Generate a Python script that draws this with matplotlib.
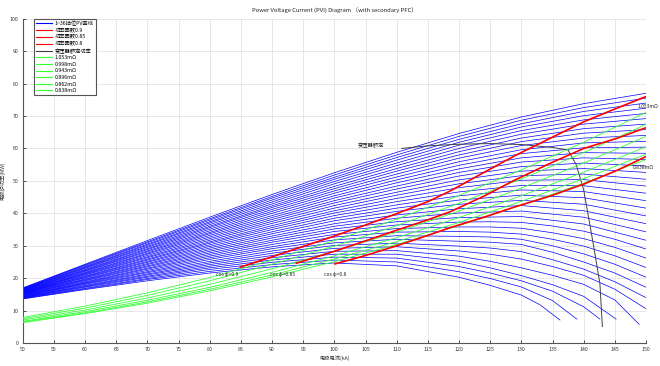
import matplotlib
matplotlib.use('Agg')
import matplotlib.pyplot as plt

plt.rcParams['font.family'] = ['Noto Sans CJK SC', 'DejaVu Sans']
plt.rcParams['axes.unicode_minus'] = False

# electrode current grid (kA) for the tap curves
pv_x = [50, 60, 70, 80, 90, 100, 110, 120, 130, 140, 150]

# arc furnace power (MW) of the 36 taps (top tap first)
pv_y = [
    [17.0, 24.3, 31.6, 38.8, 45.8, 52.5, 58.8, 64.6, 69.7, 73.8, 77.0],
    [16.9, 24.1, 31.2, 38.3, 45.2, 51.8, 58.0, 63.7, 68.7, 72.6, 75.5],
    [16.8, 23.9, 30.9, 37.9, 44.7, 51.1, 57.2, 62.8, 67.6, 71.4, 74.0],
    [16.7, 23.6, 30.5, 37.4, 44.1, 50.5, 56.4, 61.9, 66.6, 70.1, 72.4],
    [16.6, 23.4, 30.2, 37.0, 43.5, 49.8, 55.5, 61.0, 65.5, 68.8, 70.8],
    [16.5, 23.2, 29.8, 36.5, 42.9, 49.1, 54.7, 60.0, 64.4, 67.5, 69.2],
    [16.4, 23.0, 29.5, 36.0, 42.3, 48.3, 53.8, 59.0, 63.2, 66.1, 67.5],
    [16.3, 22.7, 29.1, 35.6, 41.8, 47.6, 53.0, 58.0, 62.1, 64.7, 65.8],
    [16.2, 22.5, 28.8, 35.1, 41.2, 46.9, 52.1, 57.0, 60.9, 63.2, 64.0],
    [16.1, 22.3, 28.4, 34.6, 40.6, 46.2, 51.2, 55.9, 59.6, 61.7, 62.2],
    [16.0, 22.1, 28.1, 34.1, 40.0, 45.4, 50.3, 54.8, 58.4, 60.2, 60.4],
    [15.9, 21.8, 27.7, 33.7, 39.3, 44.7, 49.4, 53.7, 57.1, 58.7, 58.5],
    [15.8, 21.6, 27.4, 33.2, 38.7, 43.9, 48.4, 52.6, 55.8, 57.1, 56.6],
    [15.7, 21.4, 27.0, 32.7, 38.1, 43.2, 47.5, 51.5, 54.4, 55.5, 54.6],
    [15.6, 21.2, 26.6, 32.2, 37.5, 42.4, 46.5, 50.3, 53.0, 53.8, 52.6],
    [15.5, 21.0, 26.3, 31.7, 36.9, 41.6, 45.6, 49.1, 51.6, 52.1, 50.5],
    [15.4, 20.7, 25.9, 31.2, 36.2, 40.8, 44.6, 47.9, 50.2, 50.4, 48.4],
    [15.4, 20.5, 25.6, 30.8, 35.6, 40.1, 43.6, 46.6, 48.6, 48.5, 46.2],
    [15.3, 20.3, 25.2, 30.3, 35.0, 39.3, 42.6, 45.4, 47.2, 46.7, 43.9],
    [15.2, 20.1, 24.9, 29.8, 34.3, 38.5, 41.6, 44.1, 45.6, 44.8, 41.6],
    [15.1, 19.8, 24.5, 29.3, 33.7, 37.7, 40.6, 42.8, 44.0, 42.8, 39.2],
    [15.0, 19.6, 24.2, 28.8, 33.0, 36.8, 39.5, 41.4, 42.4, 40.8, 36.8],
    [14.9, 19.4, 23.8, 28.3, 32.4, 36.0, 38.5, 40.1, 40.7, 38.8, 34.3],
    [14.8, 19.2, 23.5, 27.8, 31.7, 35.2, 37.4, 38.7, 39.0, 36.7, 31.7],
    [14.7, 18.9, 23.1, 27.3, 31.1, 34.4, 36.4, 37.3, 37.4, 37.2, 36.1, 34.5, 32.0, 29.0],
    [14.6, 18.7, 22.8, 26.8, 30.4, 33.5, 35.3, 35.8, 35.8, 35.4, 34.0, 32.2, 29.5, 26.2],
    [14.5, 18.5, 22.4, 26.3, 29.7, 32.7, 34.2, 34.4, 34.2, 33.6, 32.0, 29.9, 26.9, 23.3],
    [14.4, 18.3, 22.0, 25.8, 29.1, 31.8, 33.1, 32.9, 32.7, 32.0, 30.0, 27.5, 24.3, 20.3],
    [14.3, 18.1, 21.7, 25.2, 28.4, 30.9, 32.0, 31.4, 31.1, 30.4, 28.0, 25.0, 21.6, 17.2],
    [14.2, 17.8, 21.3, 24.7, 27.7, 30.1, 30.8, 29.9, 29.3, 28.2, 25.7, 22.8, 18.9, 14.0],
    [14.1, 17.6, 21.0, 24.2, 27.0, 29.2, 29.7, 28.4, 27.4, 25.9, 23.6, 20.9, 16.6, 10.6],
    [14.0, 17.4, 20.6, 23.7, 26.3, 28.3, 28.5, 26.8, 25.2, 23.2, 20.9, 18.1, 13.3, 5.8],
    [13.9, 17.2, 20.3, 23.2, 25.6, 27.4, 27.4, 25.2, 23.2, 20.8, 18.0, 14.4, 7.4],
    [13.8, 16.9, 19.9, 22.7, 24.9, 26.5, 26.2, 23.6, 21.6, 19.2, 16.0, 11.2, 7.4],
    [13.7, 16.7, 19.6, 22.1, 24.2, 25.6, 25.0, 22.0, 19.9, 17.3, 13.1, 7.4],
    [13.6, 16.5, 19.2, 21.6, 23.5, 24.7, 23.8, 20.3, 17.8, 14.8, 11.8, 7.1],
]
# the lower taps were read more densely on the right, the lowest five stop early
pv_x_custom = {
    24: [50, 60, 70, 80, 90, 100, 110, 120, 125, 130, 135, 140, 145, 150],
    25: [50, 60, 70, 80, 90, 100, 110, 120, 125, 130, 135, 140, 145, 150],
    26: [50, 60, 70, 80, 90, 100, 110, 120, 125, 130, 135, 140, 145, 150],
    27: [50, 60, 70, 80, 90, 100, 110, 120, 125, 130, 135, 140, 145, 150],
    28: [50, 60, 70, 80, 90, 100, 110, 120, 125, 130, 135, 140, 145, 150],
    29: [50, 60, 70, 80, 90, 100, 110, 120, 125, 130, 135, 140, 145, 150],
    30: [50, 60, 70, 80, 90, 100, 110, 120, 125, 130, 135, 140, 145, 150],
    31: [50, 60, 70, 80, 90, 100, 110, 120, 125, 130, 135, 140, 145, 148.9],
    32: [50, 60, 70, 80, 90, 100, 110, 120, 125, 130, 135, 140, 145.2],
    33: [50, 60, 70, 80, 90, 100, 110, 120, 125, 130, 135, 140, 142.6],
    34: [50, 60, 70, 80, 90, 100, 110, 120, 125, 130, 135, 138.9],
    35: [50, 60, 70, 80, 90, 100, 110, 120, 125, 130, 133, 136.2],
}

# power factor loci
pf09_x = [84.9, 90, 95, 100, 105, 110, 115, 118.6, 124, 129.2, 134.6, 140, 145.3, 150]
pf09_y = [23.4, 26.6, 29.8, 33.0, 36.4, 39.9, 43.6, 46.9, 52.6, 58.0, 63.1, 68.2, 72.4, 76.0]
pf085_x = [93.9, 100, 105, 110, 115, 118.6, 124, 129, 134.6, 140, 145.3, 150]
pf085_y = [24.6, 28.3, 31.5, 34.8, 38.0, 40.5, 45.3, 50.3, 55.4, 60.0, 63.1, 66.4]
pf08_x = [100.1, 105, 110, 115, 118.6, 124, 129, 134.6, 140, 145.3, 150]
pf08_y = [24.4, 27.0, 30.0, 33.2, 35.6, 38.8, 42.0, 45.3, 49.0, 53.2, 57.5]

# transformer rated power limit
tr_x = [110.8, 115, 120, 125, 130, 135, 137.5, 138.8, 140, 141.5, 142.6, 143]
tr_y = [60.0, 60.8, 61.3, 61.5, 61.2, 60.3, 59.5, 55.0, 47.2, 31.0, 18.4, 5.1]

# constant resistance lines
res_labels = ['1.053mΩ', '0.998mΩ', '0.943mΩ', '0.896mΩ', '0.862mΩ', '0.838mΩ']
res_x = [50, 60, 70, 80, 90, 100, 110, 120, 130, 140, 150]
res_y = [
    [7.9, 11.4, 15.5, 20.2, 25.6, 31.6, 38.2, 45.5, 53.4, 61.9, 71.1],
    [7.5, 10.8, 14.7, 19.2, 24.3, 29.9, 36.2, 43.1, 50.6, 58.7, 67.4],
    [7.1, 10.2, 13.9, 18.1, 22.9, 28.3, 34.2, 40.7, 47.8, 55.5, 63.7],
    [6.7, 9.7, 13.2, 17.2, 21.8, 26.9, 32.5, 38.7, 45.4, 52.7, 60.5],
    [6.5, 9.3, 12.7, 16.6, 21.0, 25.9, 31.3, 37.2, 43.7, 50.7, 58.2],
    [6.3, 9.1, 12.3, 16.1, 20.4, 25.1, 30.4, 36.2, 42.5, 49.3, 56.6],
]

fig = plt.figure(figsize=(6.6, 3.66), dpi=100)
ax = fig.add_axes([0.0344, 0.0626, 0.9444, 0.8864])

handles = []
for i, ys in enumerate(pv_y):
    xs = pv_x_custom.get(i, pv_x)
    line, = ax.plot(xs, ys, color='blue', lw=0.5, zorder=2)
    if i == 0:
        handles.append(line)

for xs, ys in [(pf09_x, pf09_y), (pf085_x, pf085_y), (pf08_x, pf08_y)]:
    line, = ax.plot(xs, ys, color='red', lw=1.2, zorder=4)
    handles.append(line)

line, = ax.plot(tr_x, tr_y, color='#404040', lw=0.7, zorder=3)
handles.append(line)

for ys in res_y:
    line, = ax.plot(res_x, ys, color='#33ff33', lw=0.6, zorder=3)
    handles.append(line)

labels = ['1~36挡位PV曲线', '功率因数0.9', '功率因数0.85', '功率因数0.8', '变压器额定功率'] + res_labels

ax.text(103.8, 61.1, '变压器额定', fontsize=3.8, va='center', color='#222222')
ax.text(84.6, 21.2, 'cos φ=0.9', fontsize=3.6, ha='right', va='center', color='#222222')
ax.text(93.7, 21.2, 'cos φ=0.85', fontsize=3.6, ha='right', va='center', color='#222222')
ax.text(102.0, 21.2, 'cos φ=0.8', fontsize=3.6, ha='right', va='center', color='#222222')
ax.text(148.7, 72.9, res_labels[0], fontsize=3.6, va='center', color='#222222', clip_on=False)
ax.text(147.9, 54.0, res_labels[-1], fontsize=3.6, va='center', color='#222222', clip_on=False)

ax.set_xlim(50, 150)
ax.set_ylim(0, 100)
ax.set_xticks(range(50, 151, 5))
ax.set_yticks(range(0, 101, 10))
ax.grid(True, color='#e3e3e3', lw=0.6)
ax.set_axisbelow(True)
ax.tick_params(direction='in', length=2.5, width=0.6, labelsize=3.8,
               colors='#333333', pad=3)
for s in ['top', 'right']:
    ax.spines[s].set_visible(False)
for s in ['left', 'bottom']:
    ax.spines[s].set_color('#555555')
    ax.spines[s].set_linewidth(0.8)

ax.set_title('Power Voltage Current (PVI) Diagram （with secondary PFC）', fontsize=4.2,
             color='#222222', pad=4)
ax.set_xlabel('电极电流(kA)', fontsize=3.8, color='#333333', labelpad=2)
ax.set_ylabel('电弧炉功率(MW)', fontsize=3.8, color='#333333', labelpad=3)

leg = ax.legend(handles, labels, loc='upper left', bbox_to_anchor=(0.0186, 1.0),
                borderaxespad=0, fontsize=3.8, fancybox=False, edgecolor='#555555',
                framealpha=1, handlelength=3.0, labelspacing=0.3, borderpad=0.4,
                handletextpad=0.5)
leg.get_frame().set_linewidth(0.8)
for h in leg.get_lines():
    h.set_linewidth(0.8)

fig.savefig('out.png', dpi=100)
